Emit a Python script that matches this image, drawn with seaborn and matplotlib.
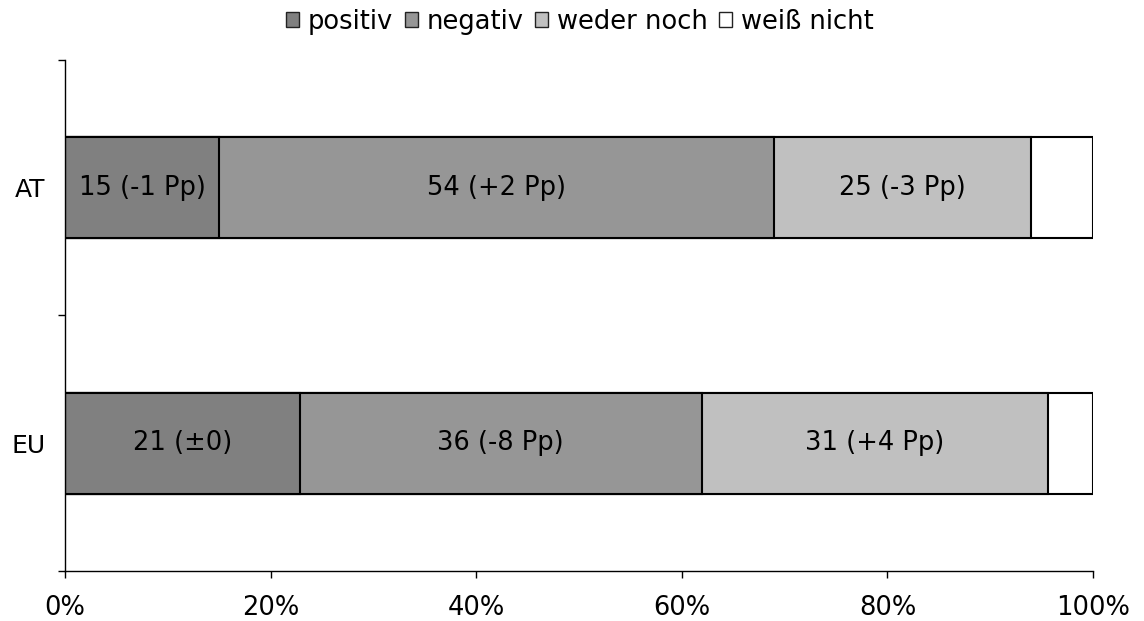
"""100% stacked horizontal bar chart: positiv / negativ / weder noch / weiß nicht."""

import matplotlib.pyplot as plt
import numpy as np
import pandas as pd
import seaborn as sns
from matplotlib.patches import Patch
from matplotlib.ticker import FixedLocator, PercentFormatter

# Data
regions = ["AT", "EU"]
categories = ["positiv", "negativ", "weder noch", "weiß nicht"]
positiv = [15, 21]
negativ = [54, 36]
weder_noch = [25, 31]
weiss_nicht = [6, 4]
bar_labels = [
    ["15 (-1 Pp)", "54 (+2 Pp)", "25 (-3 Pp)", ""],
    ["21 (±0)", "36 (-8 Pp)", "31 (+4 Pp)", ""],
]

colors = ["#808080", "#969696", "#C0C0C0", "#FFFFFF"]

# Build shares (normalise to 100%)
df = pd.DataFrame(
    {
        "region": regions,
        "positiv": positiv,
        "negativ": negativ,
        "weder noch": weder_noch,
        "weiß nicht": weiss_nicht,
    }
).set_index("region")
share = df.div(df.sum(axis=1), axis=0)
cum = share.cumsum(axis=1)

sns.set_style("white")
plt.rcParams["font.family"] = ["DejaVu Sans"]

fig = plt.figure(figsize=(11.44, 6.21), dpi=100)
ax = fig.add_axes([0.0568, 0.0805, 0.8986, 0.8229])

# draw cumulative bars from largest to smallest so they stack
for cat, color in reversed(list(zip(categories, colors))):
    plot_df = cum[cat].reset_index().rename(columns={cat: "value"})
    sns.barplot(
        data=plot_df,
        x="value",
        y="region",
        order=regions,
        color=color,
        saturation=1,
        width=0.395,
        edgecolor="black",
        linewidth=1.5,
        ax=ax,
    )

# Segment labels
for i, region in enumerate(regions):
    left = 0.0
    for j, cat in enumerate(categories):
        w = share.loc[region, cat]
        if bar_labels[i][j]:
            ax.text(
                left + w / 2,
                i,
                bar_labels[i][j],
                ha="center",
                va="center",
                fontsize=18.5,
                color="black",
            )
        left += w

ax.set_xlim(0, 1)
ax.set_ylim(1.5, -0.5)
ax.set_xlabel("")
ax.set_ylabel("")

ax.xaxis.set_major_locator(FixedLocator(np.linspace(0, 1, 6)))
ax.xaxis.set_major_formatter(PercentFormatter(1.0, decimals=0))
ax.tick_params(
    axis="x", bottom=True, length=5, width=1, pad=12, labelsize=18.5,
    color="black", labelcolor="black",
)

ax.yaxis.set_minor_locator(FixedLocator([-0.5, 0.5, 1.5]))
ax.tick_params(
    axis="y", which="major", left=False, length=0, pad=14, labelsize=18,
    labelcolor="black",
)
ax.tick_params(axis="y", which="minor", left=True, length=5, width=1, color="black")

for side in ["top", "right"]:
    ax.spines[side].set_visible(False)
for side in ["left", "bottom"]:
    ax.spines[side].set_color("black")
    ax.spines[side].set_linewidth(1)

# Legend
handles = [
    Patch(facecolor=c, edgecolor="#222222", linewidth=1, label=cat)
    for cat, c in zip(categories, colors)
]
leg = fig.legend(
    handles=handles,
    loc="center",
    bbox_to_anchor=(0.507, 0.965),
    ncol=4,
    frameon=False,
    fontsize=18.5,
    handlelength=0.5,
    handleheight=0.5,
    handletextpad=0.35,
    columnspacing=0.45,
)
for t in leg.get_texts():
    t.set_color("black")

plt.savefig("out.png", dpi=100)
plt.close()
